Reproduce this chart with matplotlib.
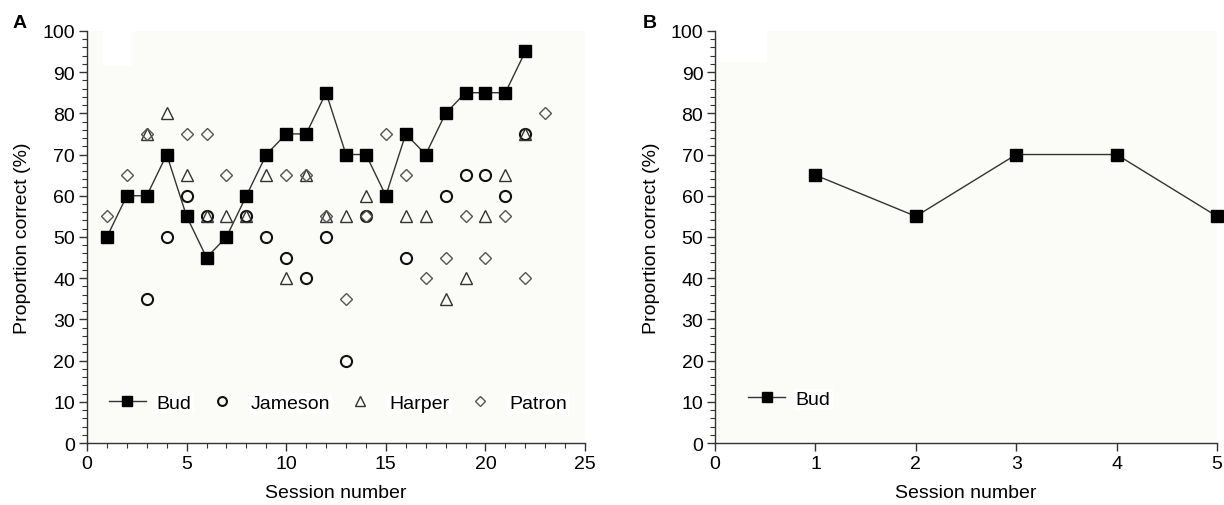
import numpy as np
import matplotlib.pyplot as plt
from matplotlib.patches import Rectangle
from matplotlib.ticker import MultipleLocator

plt.rcParams['font.family'] = ['Liberation Sans', 'DejaVu Sans']

# panel A data (session, % correct)
bud_x = [1, 2, 3, 4, 5, 6, 7, 8, 9, 10, 11, 12, 13, 14, 15, 16, 17, 18, 19, 20, 21, 22]
bud_y = [50, 60, 60, 70, 55, 45, 50, 60, 70, 75, 75, 85, 70, 70, 60, 75, 70, 80, 85, 85, 85, 95]

jameson_x = [3, 4, 5, 6, 8, 9, 10, 11, 12, 13, 14, 16, 18, 19, 20, 21, 22]
jameson_y = [35, 50, 60, 55, 55, 50, 45, 40, 50, 20, 55, 45, 60, 65, 65, 60, 75]

harper_x = [3, 4, 5, 6, 7, 8, 9, 10, 11, 12, 13, 14, 16, 17, 18, 19, 20, 21, 22]
harper_y = [75, 80, 65, 55, 55, 55, 65, 40, 65, 55, 55, 60, 55, 55, 35, 40, 55, 65, 75]

patron_x = [1, 2, 3, 5, 6, 7, 10, 11, 12, 13, 14, 15, 16, 17, 18, 19, 20, 21, 22, 23]
patron_y = [55, 65, 75, 75, 75, 65, 65, 65, 55, 35, 55, 75, 65, 40, 45, 55, 45, 55, 40, 80]

# panel B data
bud_b_x = [1, 2, 3, 4, 5]
bud_b_y = [65, 55, 70, 70, 55]

FS = 14
bg = '#fbfbf8'


def style_axes(ax, xmax, xmajor, xminor):
    ax.set_facecolor(bg)
    ax.spines['top'].set_visible(False)
    ax.spines['right'].set_visible(False)
    for s in ('left', 'bottom'):
        ax.spines[s].set_linewidth(1.0)
        ax.spines[s].set_color('#333333')
    ax.set_xlim(0, xmax)
    ax.set_ylim(0, 100)
    ax.xaxis.set_major_locator(MultipleLocator(xmajor))
    if xminor:
        ax.xaxis.set_minor_locator(MultipleLocator(xminor))
    ax.yaxis.set_major_locator(MultipleLocator(10))
    ax.yaxis.set_minor_locator(MultipleLocator(2))
    ax.tick_params(which='major', direction='out', length=6, width=1.0,
                   color='#333333', labelsize=FS, pad=2.5)
    ax.tick_params(which='minor', direction='out', length=3.5, width=0.8,
                   color='#333333')
    ax.set_xlabel('Session number', fontsize=FS, labelpad=9)
    ax.set_ylabel('Proportion correct (%)', fontsize=FS, labelpad=8)


def legend_boxes(leg):
    for t in leg.get_texts():
        t.set_bbox(dict(facecolor='white', edgecolor='none', pad=1.5))


fig = plt.figure(figsize=(12.24, 5.06), dpi=100)
axA = fig.add_axes([0.0711, 0.1225, 0.4069, 0.8145])
axB = fig.add_axes([0.5842, 0.1225, 0.4101, 0.8145])

# panel A
style_axes(axA, 25, 5, 1)
axA.add_patch(Rectangle((0.032, 0.915), 0.06, 0.085, transform=axA.transAxes,
                        facecolor='white', edgecolor='none', zorder=0.5))
axA.plot(bud_x, bud_y, color='#333333', lw=1.0, marker='s', ms=8.5,
         mfc='black', mec='black', label='Bud', zorder=4, clip_on=False)
axA.plot(jameson_x, jameson_y, ls='none', marker='o', ms=8, mfc='none',
         mec='#111111', mew=1.5, label='Jameson', zorder=3)
axA.plot(harper_x, harper_y, ls='none', marker='^', ms=8.5, mfc='none',
         mec='#333333', mew=1.0, label='Harper', zorder=3)
axA.plot(patron_x, patron_y, ls='none', marker='D', ms=6.5, mfc='none',
         mec='#555555', mew=1.0, label='Patron', zorder=3)
legA = axA.legend(loc='center left', bbox_to_anchor=(0.044, 0.097), ncol=4,
                  frameon=False, fontsize=FS, handlelength=1.9,
                  handletextpad=0.55, columnspacing=0.6, borderpad=0,
                  borderaxespad=0, markerscale=0.8)
legend_boxes(legA)
axA.text(-0.15, 1.02, 'A', transform=axA.transAxes, fontsize=FS,
         fontweight='bold', ha='left', va='center')

# panel B
style_axes(axB, 5, 1, None)
axB.add_patch(Rectangle((0.004, 0.925), 0.1, 0.075, transform=axB.transAxes,
                        facecolor='white', edgecolor='none', zorder=0.5))
axB.plot(bud_b_x, bud_b_y, color='#333333', lw=1.0, marker='s', ms=8.5,
         mfc='black', mec='black', label='Bud', zorder=4, clip_on=False)
legB = axB.legend(loc='center left', bbox_to_anchor=(0.066, 0.107),
                  frameon=False, fontsize=FS, handlelength=1.9,
                  handletextpad=0.55, borderpad=0, borderaxespad=0,
                  markerscale=0.8)
legend_boxes(legB)
axB.text(-0.145, 1.02, 'B', transform=axB.transAxes, fontsize=FS,
         fontweight='bold', ha='left', va='center')

fig.savefig('out.png', dpi=100, facecolor='white')
